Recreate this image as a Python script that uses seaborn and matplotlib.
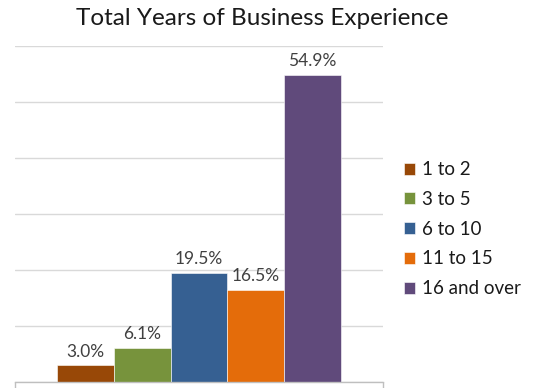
import matplotlib
matplotlib.use("Agg")
import matplotlib.pyplot as plt
import seaborn as sns
import pandas as pd

categories = ["1 to 2", "3 to 5", "6 to 10", "11 to 15", "16 and over"]
shares = [3.0, 6.1, 19.5, 16.5, 54.9]
colors = ["#984807", "#77933C", "#366092", "#E46C0A", "#604A7B"]
title = "Total Years of Business Experience"

sns.set_theme(style="white")
plt.rcParams["font.family"] = ["Lato", "DejaVu Sans"]

df = pd.DataFrame({"group": ["all"] * len(categories),
                   "range": categories,
                   "share": shares})

fig = plt.figure(figsize=(5.33, 3.88), dpi=100)
ax = fig.add_axes([0.028, 0.0155, 0.6906, 0.8655])

sns.barplot(data=df, x="group", y="share", hue="range",
            hue_order=categories, palette=colors, width=0.77,
            saturation=1, edgecolor="#FFFFFF", linewidth=0.4, ax=ax)

for cont in ax.containers:
    ax.bar_label(cont, fmt="%.1f%%", padding=4, fontsize=12.5, color="#404040")

ax.set_ylim(0, 60)
ax.set_xlim(-0.5, 0.5)
ax.set_yticks(range(0, 61, 10))
ax.set_yticklabels([])
ax.yaxis.grid(True, color="#D9D9D9", linewidth=1)
ax.set_axisbelow(True)
ax.set_xticks([-0.5, 0.5])
ax.set_xticklabels([])
ax.tick_params(axis="x", direction="out", length=6, color="#BFBFBF", width=1, bottom=True)
ax.tick_params(axis="y", length=0)
for s in ["left", "right", "top"]:
    ax.spines[s].set_visible(False)
ax.spines["bottom"].set_color("#BFBFBF")
ax.spines["bottom"].set_linewidth(1)
ax.set_xlabel("")
ax.set_ylabel("")

fig.suptitle(title, x=0.4925, y=0.98, fontsize=17.5, color="#1a1a1a")

leg = ax.legend(title=None, loc="center left", bbox_to_anchor=(1.01, 0.455),
                frameon=False, fontsize=13.5, handlelength=0.62, handleheight=0.62,
                handletextpad=0.35, labelspacing=0.68, labelcolor="#1a1a1a")

fig.savefig("out.png", dpi=100)
